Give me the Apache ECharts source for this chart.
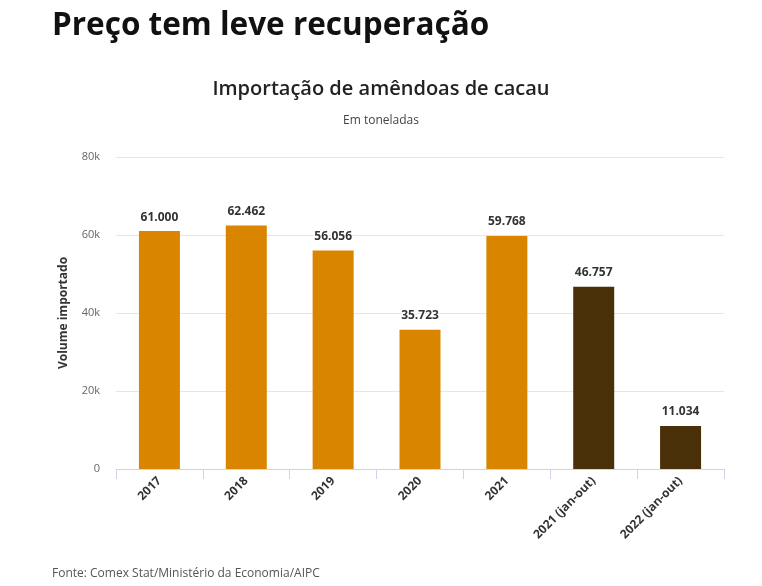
<!DOCTYPE html>
<html><head><meta charset="utf-8">
<script src="https://cdn.jsdelivr.net/npm/echarts@6/dist/echarts.min.js"></script>
<style>html,body{margin:0;padding:0;background:#fff}#c{width:762px;height:586px}</style>
</head><body><div id="c"></div>
<script>
const categories = ['2017','2018','2019','2020','2021','2021 (jan-out)','2022 (jan-out)'];
const values = [61000, 62462, 56056, 35723, 59768, 46757, 11034];
const barColors = ['#D98500','#D98500','#D98500','#D98500','#D98500','#4A3008','#4A3008'];
const yTicks = [0, 20000, 40000, 60000, 80000];

const chart = echarts.init(document.getElementById('c'));
const fmt = v => String(v).replace(/\B(?=(\d{3})+(?!\d))/g, '.');
chart.setOption({
  animation: false,
  title: [
    {text: 'Preço tem leve recuperação', left: 52, top: 10, padding: 0,
     textStyle: {fontFamily: 'Open Sans', fontWeight: 'bold', fontSize: 31.5, color: '#111'}},
    {text: 'Importação de amêndoas de cacau', left: 'center', top: 79, padding: 0,
     textStyle: {fontFamily: 'Open Sans', fontWeight: 600, fontSize: 20, color: '#222'}},
    {text: 'Em toneladas', left: 'center', top: 115, padding: 0,
     textStyle: {fontFamily: 'Open Sans', fontWeight: 'normal', fontSize: 12, color: '#444'}},
    {text: 'Fonte: Comex Stat/Ministério da Economia/AIPC', left: 52, top: 568, padding: 0,
     textStyle: {fontFamily: 'Open Sans', fontWeight: 'normal', fontSize: 12, color: '#555'}}
  ],
  grid: {left: 116, right: 38, top: 157, bottom: 117},
  xAxis: {
    type: 'category', data: categories,
    axisLine: {lineStyle: {color: '#ccd6eb'}},
    axisTick: {show: true, length: 10, lineStyle: {color: '#ccd6eb'}},
    axisLabel: {rotate: 45, interval: 0, fontFamily: 'Open Sans', fontWeight: 'bold', fontSize: 12, color: '#333', margin: 10}
  },
  yAxis: {
    type: 'value', min: 0, max: 80000, interval: 20000,
    name: 'Volume importado', nameLocation: 'middle', nameGap: 46, nameRotate: 90,
    nameTextStyle: {fontFamily: 'Open Sans', fontWeight: 'bold', fontSize: 12, color: '#333'},
    axisLine: {show: false}, axisTick: {show: false},
    splitLine: {lineStyle: {color: '#e6e6e6'}},
    axisLabel: {fontFamily: 'Open Sans', fontSize: 11, color: '#666', margin: 16,
      formatter: v => yTicks.includes(v) ? (v === 0 ? '0' : (v/1000) + 'k') : ''}
  },
  series: [{
    type: 'bar', barWidth: 41,
    data: values.map((v, i) => ({value: v, itemStyle: {color: barColors[i]}})),
    label: {show: true, position: 'top', distance: 8, formatter: p => fmt(p.value),
      fontFamily: 'Open Sans', fontWeight: 'bold', fontSize: 12, color: '#333',
      textBorderColor: '#fff', textBorderWidth: 2}
  }]
});
</script></body></html>
